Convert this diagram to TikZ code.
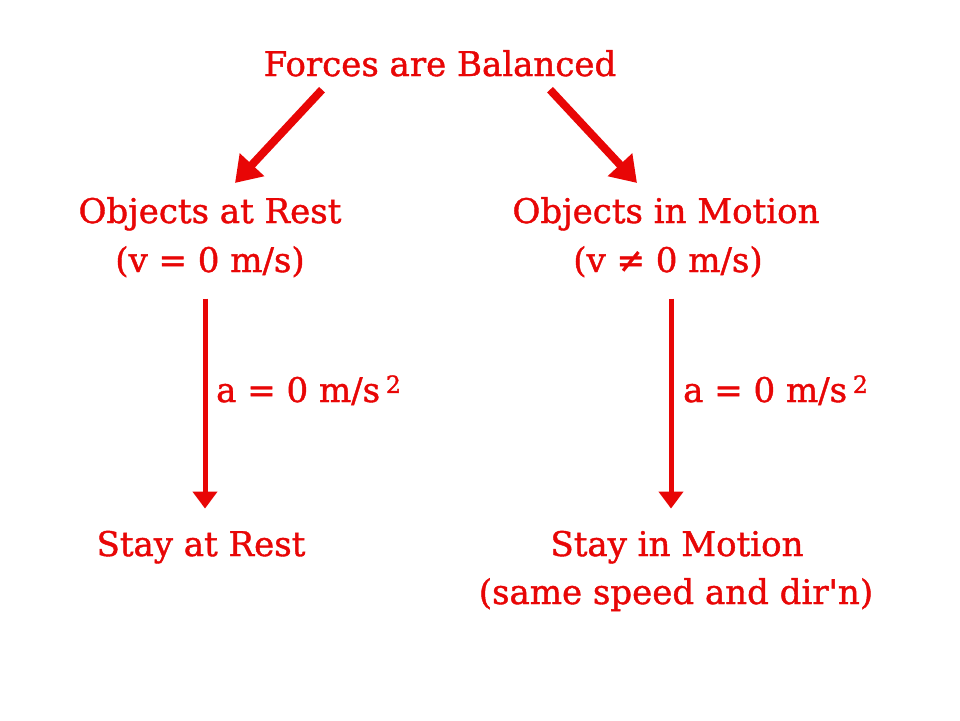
\documentclass[tikz,border=0pt]{standalone}
\usepackage{fontspec}
\usepackage{xcolor}
\usetikzlibrary{arrows.meta}
\setmainfont{DejaVu Serif}[FakeBold=1.2]
\definecolor{forcered}{RGB}{232,6,6}

\begin{document}
\begin{tikzpicture}[x=1pt,y=-1pt,
    lbl/.style={text=forcered,inner sep=0pt,anchor=base,font=\fontsize{34}{40}\selectfont},
    bigarrow/.style={draw=forcered,line width=8pt,-{Triangle[length=25pt,width=32pt]}},
    smallarrow/.style={draw=forcered,line width=5pt,-{Triangle[length=17pt,width=24pt]}}]
    \useasboundingbox[fill=white] (0,0) rectangle (960,720);
    \coordinate (lcol) at (205,0);
    \coordinate (rcol) at (671,0);
    \node[lbl] (top) at (440,76) {Forces are Balanced};
    \node[lbl] (rest) at (210,223) {Objects at Rest};
    \node[lbl] (restv) at (210,272) {(v = 0 m/s)};
    \node[lbl] (motion) at (666,223) {Objects in Motion};
    \node[lbl] (motionv) at (668,272) {(v ≠ 0 m/s)};
    \node[lbl] (stayrest) at (201,556) {Stay at Rest};
    \node[lbl] (staymotion) at (677,556) {Stay in Motion};
    \node[lbl] (samedir) at (676,604) {(same speed and dir\textquotesingle n)};
    \draw[bigarrow] ([xshift=-118pt,yshift=-13pt]top.south) -- ([xshift=25pt,yshift=14pt]rest.north);
    \draw[bigarrow] ([xshift=110pt,yshift=-13pt]top.south) -- ([xshift=-29pt,yshift=14pt]motion.north);
    \draw[smallarrow,shorten <=21pt,shorten >=22pt] (restv.south -| lcol) -- (stayrest.north -| lcol);
    \draw[smallarrow,shorten <=21pt,shorten >=22pt] (motionv.south -| rcol) -- (staymotion.north -| rcol);
    \node[lbl,anchor=base west] (accrest) at (216,402) {a = 0 m/s\,\textsuperscript{2}};
    \node[lbl,anchor=base west] (accmotion) at (683,402) {a = 0 m/s\,\textsuperscript{2}};
\end{tikzpicture}
\end{document}
